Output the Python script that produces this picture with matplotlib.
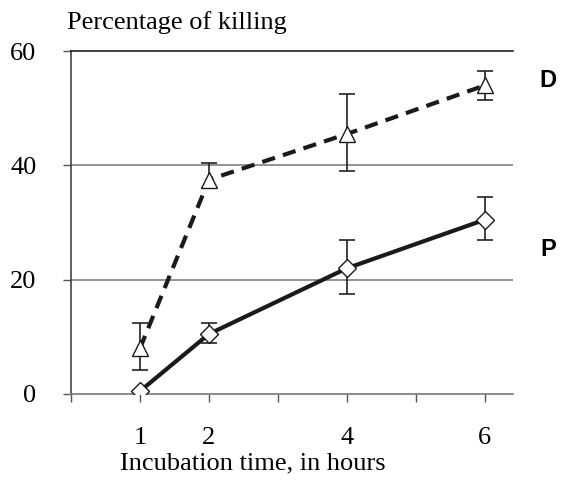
import matplotlib
matplotlib.use("Agg")
import matplotlib.pyplot as plt

# hours of incubation
hours = [1, 2, 4, 6]

# D series (triangles, dashed)
d_vals = [8, 37.5, 45.5, 54]
d_low = [4.2, 36, 39, 51.5]
d_high = [12.5, 40.5, 52.5, 56.5]

# P series (diamonds, solid)
p_vals = [0.5, 10.5, 22, 30.5]
p_low = [0.5, 9, 17.5, 27]
p_high = [0.5, 12.5, 27, 34.5]

xtick_pos = [0, 1, 2, 3, 4, 5, 6]
xtick_labels = ["", "1", "2", "", "4", "", "6"]
ytick_pos = [0, 20, 40, 60]

serif = "Liberation Serif"
sans = "Liberation Sans"
fs = 19

fig = plt.figure(figsize=(5.61, 4.91), dpi=100)
ax = fig.add_axes([0.1266, 0.1976, 0.787, 0.6984])

for y in ytick_pos[1:3]:
    ax.axhline(y, color="#808080", lw=1.2, zorder=1)

def draw(vals, low, high, marker, ms, ls):
    yerr = [[v - l for v, l in zip(vals, low)], [h - v for v, h in zip(vals, high)]]
    ax.errorbar(hours, vals, yerr=yerr, fmt="none", ecolor="#222222",
                elinewidth=1.2, capsize=6, capthick=1.2, zorder=2)
    ax.plot(hours, vals, color="#1a1a1a", lw=3, ls=ls, zorder=3,
            dashes=(3.2, 2.0) if ls == "--" else (None, None))
    ax.plot(hours, vals, ls="none", marker=marker, ms=ms, mfc="white",
            mec="#1a1a1a", mew=1, zorder=4)

draw(d_vals, d_low, d_high, "^", 12, "--")
draw(p_vals, p_low, p_high, "D", 9, "-")

ax.set_xlim(0, 6.4)
ax.set_ylim(0, 60)
ax.set_xticks(xtick_pos)
ax.set_xticklabels(xtick_labels, fontfamily=serif, fontsize=fs)
ax.set_yticks(ytick_pos)
ax.set_yticklabels([str(v) for v in ytick_pos], fontfamily=serif, fontsize=fs)
ax.tick_params(axis="x", direction="out", length=6, width=1, color="#555555", pad=18)
ax.tick_params(axis="y", direction="out", length=6, width=1, color="#555555", pad=19)

ax.spines["right"].set_visible(False)
ax.spines["left"].set_color("#444444")
ax.spines["bottom"].set_color("#777777")
ax.spines["top"].set_color("#222222")
for s in ax.spines.values():
    s.set_linewidth(1.2)

fig.text(0.316, 0.955, "Percentage of killing", fontfamily=serif, fontsize=fs,
         ha="center", va="center")
fig.text(0.45, 0.057, "Incubation time, in hours", fontfamily=serif, fontsize=fs,
         ha="center", va="center")
fig.text(0.977, 0.837, "D", fontfamily=sans, fontweight="bold", fontsize=17,
         ha="center", va="center")
fig.text(0.977, 0.491, "P", fontfamily=sans, fontweight="bold", fontsize=17,
         ha="center", va="center")

fig.savefig("out.png", dpi=100)
